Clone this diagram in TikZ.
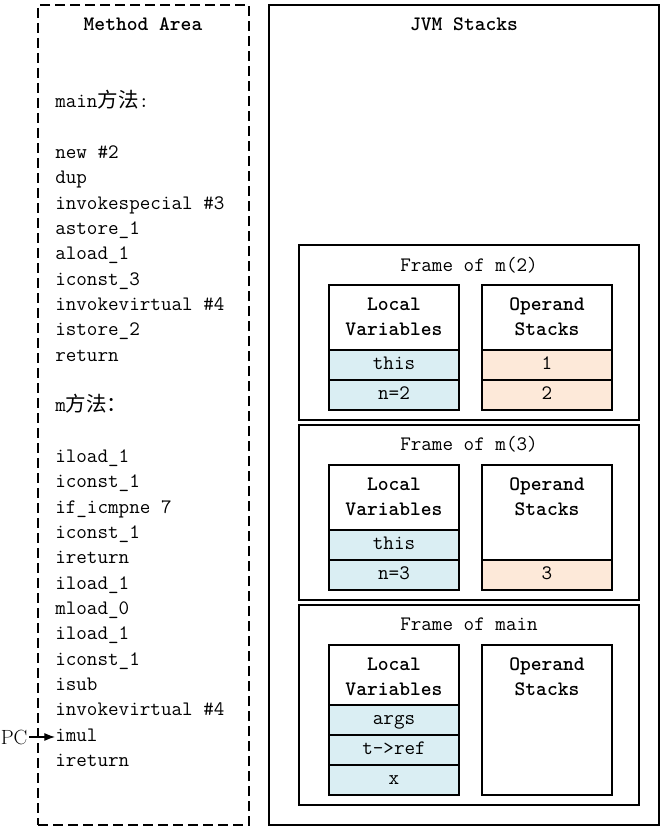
\documentclass[tikz,border=0pt]{standalone}
\usepackage{fontspec}
\newfontfamily\cjk[Scale=1.0]{Noto Sans CJK SC}
\usetikzlibrary{arrows.meta}
\definecolor{varblue}{HTML}{DAEEF3}
\definecolor{oppeach}{HTML}{FDE9D9}
\newcommand\codesize{\ttfamily\fontsize{15.4pt}{18.75pt}\selectfont}

\begin{document}
\begin{tikzpicture}[x=0.75pt,y=-0.75pt]
        \tikzset{every node/.style = {font=\codesize},
          area/.style = {draw, line width=0.8pt, inner sep=0, minimum height=615pt},
          framebox/.style = {draw, line width=0.8pt, inner sep=0, minimum width=255pt},
          colbox/.style = {draw, line width=0.8pt, inner sep=0, minimum width=97.5pt},
          colhead/.style = {align=center, inner sep=0, font=\codesize\bfseries},
          lvcell/.style = {colbox, fill=varblue, minimum height=22.5pt, text height=0.7em, text depth=0.1em},
          opcell/.style = {lvcell, fill=oppeach},
          code/.style = {anchor=base west, inner sep=0}};
        \useasboundingbox (0,0) rectangle (666,831);
        % the two areas
        \node[area, dash pattern=on 7.5pt off 3.75pt, minimum width=158.25pt] (method) at (143.5,415) {};
        \node[area, minimum width=292.5pt] (jvm) at (464,415) {};
        \node[font=\codesize\bfseries] (methodtitle) at (143,24) {Method Area};
        \node[font=\codesize\bfseries] (jvmtitle) at (464,24) {JVM Stacks};
        % byte code
        \foreach \t [count=\i] in {main{\cjk 方法}:, {}, new \#2, dup, invokespecial \#3,
          astore\_1, aload\_1, iconst\_3, invokevirtual \#4, istore\_2, return, {},
          m{\cjk 方法：}, {}, iload\_1, iconst\_1, if\_icmpne 7, iconst\_1, ireturn,
          iload\_1, mload\_0, iload\_1, iconst\_1, isub, invokevirtual \#4, imul, ireturn}
          \node[code] (code\i) at (55,{108+25.33*(\i-1)}) {\t};
        \node[anchor=base east, inner sep=1pt, font=\rmfamily\fontsize{15.4pt}{18pt}\selectfont] (pc) at (29,744) {PC};
        \draw[-{Latex[length=8pt,width=6pt]}, line width=0.8pt] (pc.east) -- (pc.east -| code26.west);
        % frame of m(2)
        \node[framebox, minimum height=131.25pt] (fm2) at (469,332.5) {};
        \node (fm2title) at (469,265) {Frame of m(2)};
        \node[colbox, minimum height=93.75pt] (lv2) at (394,347.5) {};
        \node[colhead] (lv2head) at (394,316.5) {Local\\Variables};
        \node[lvcell] (lv2a) at (394,365) {this};
        \node[lvcell] (lv2b) at (394,395) {n=2};
        \node[colbox, minimum height=93.75pt] (os2) at (547,347.5) {};
        \node[colhead] (os2head) at (547,316.5) {Operand\\Stacks};
        \node[opcell] (os2a) at (547,365) {1};
        \node[opcell] (os2b) at (547,395) {2};
        % frame of m(3)
        \node[framebox, minimum height=131.25pt] (fm3) at (469,512.5) {};
        \node (fm3title) at (469,444) {Frame of m(3)};
        \node[colbox, minimum height=93.75pt] (lv3) at (394,527.5) {};
        \node[colhead] (lv3head) at (394,496.5) {Local\\Variables};
        \node[lvcell] (lv3a) at (394,545) {this};
        \node[lvcell] (lv3b) at (394,575) {n=3};
        \node[colbox, minimum height=93.75pt] (os3) at (547,527.5) {};
        \node[colhead] (os3head) at (547,496.5) {Operand\\Stacks};
        \node[opcell] (os3a) at (547,575) {3};
        % frame of main
        \node[framebox, minimum height=150pt] (fmain) at (469,705) {};
        \node (fmaintitle) at (469,624) {Frame of main};
        \node[colbox, minimum height=112.5pt] (lvmain) at (394,720) {};
        \node[colhead] (lvmainhead) at (394,676.5) {Local\\Variables};
        \node[lvcell] (lvmaina) at (394,720) {args};
        \node[lvcell] (lvmainb) at (394,750) {t->ref};
        \node[lvcell] (lvmainc) at (394,780) {x};
        \node[colbox, minimum height=112.5pt] (osmain) at (547,720) {};
        \node[colhead] (osmainhead) at (547,676.5) {Operand\\Stacks};
    \end{tikzpicture}
\end{document}
